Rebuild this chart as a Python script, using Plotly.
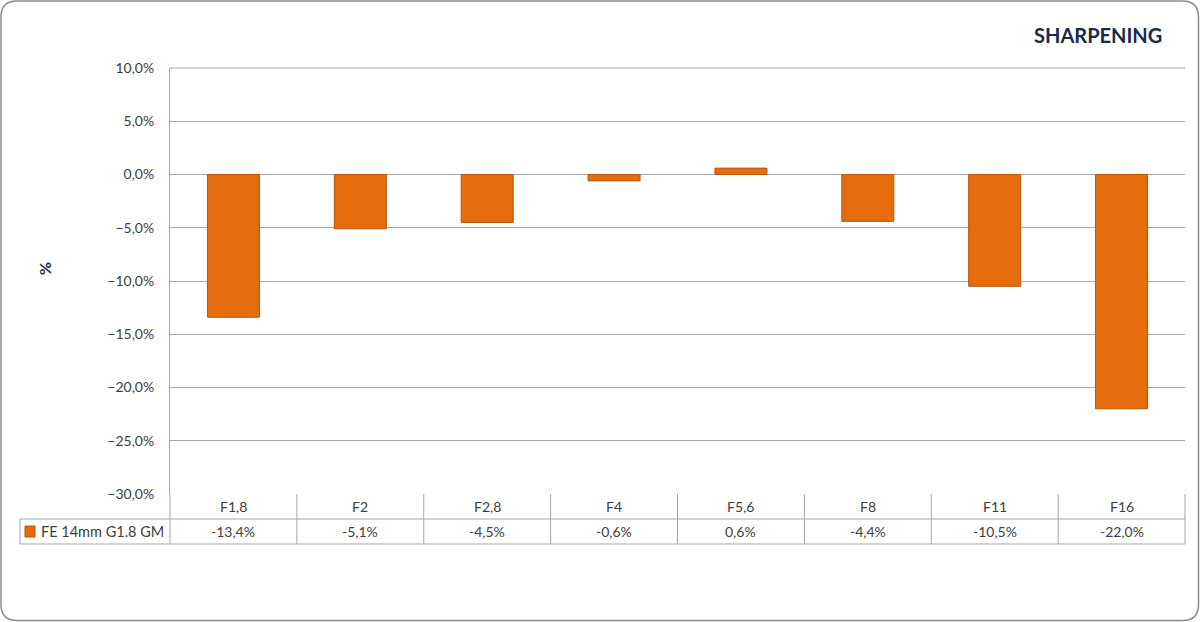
import plotly.graph_objects as go

categories = ["F1,8", "F2", "F2,8", "F4", "F5,6", "F8", "F11", "F16"]
values = [-13.4, -5.1, -4.5, -0.6, 0.6, -4.4, -10.5, -22.0]
series_name = "FE 14mm G1.8 GM"
title_text = "SHARPENING"
y_title = "%"

W, H = 1200, 622
L, R, T, B = 170, 15, 68, 128
PW, PH = W - L - R, H - T - B

def px(x):  # pixel x -> paper
    return (x - L) / PW

def py(y):  # pixel y -> paper
    return (H - B - y) / PH

orange = "#E46C0A"
orange_line = "#B5560A"
grid = "#A6A6A6"
txt = "#404040"
navy = "#1B2A47"
FONT = "Lato"

fig = go.Figure()
fig.add_trace(go.Bar(
    x=categories, y=values, width=0.41, name=series_name,
    marker=dict(color=orange, line=dict(color=orange_line, width=1)),
    showlegend=False,
))

shapes = []
ann = []
line_style = dict(color=grid, width=1)

# top gridline (range edge)
shapes.append(dict(type="line", xref="paper", yref="paper", x0=0, x1=1, y0=1, y1=1, line=line_style))

# table horizontal lines
row1 = py(519)
row2 = py(544)
shapes.append(dict(type="line", xref="paper", yref="paper", x0=px(20), x1=1, y0=row1, y1=row1, line=line_style))
shapes.append(dict(type="line", xref="paper", yref="paper", x0=px(20), x1=1, y0=row2, y1=row2, line=line_style))
shapes.append(dict(type="line", xref="paper", yref="paper", x0=px(20), x1=px(20), y0=row1, y1=row2, line=line_style))
# table vertical lines at category boundaries
n = len(categories)
for i in range(n + 1):
    xb = i / n
    shapes.append(dict(type="line", xref="paper", yref="paper", x0=xb, x1=xb, y0=0, y1=row2, line=line_style))

for i, (c, v) in enumerate(zip(categories, values)):
    xc = (i + 0.5) / n
    ann.append(dict(x=xc, y=py(506.5), xref="paper", yref="paper", text=c, showarrow=False,
                    font=dict(family=FONT, size=14, color=txt), xanchor="center", yanchor="middle"))
    ann.append(dict(x=xc, y=py(531.5), xref="paper", yref="paper",
                    text=f"{v:.1f}".replace(".", ",") + "%", showarrow=False,
                    font=dict(family=FONT, size=14, color=txt), xanchor="center", yanchor="middle"))

# legend swatch + series name
shapes.append(dict(type="rect", xref="paper", yref="paper", x0=px(25), x1=px(35), y0=py(537), y1=py(526),
                   fillcolor=orange, line=dict(color=orange_line, width=1)))
ann.append(dict(x=px(39), y=py(531.5), xref="paper", yref="paper", text=series_name, showarrow=False,
                font=dict(family=FONT, size=14.5, color=txt), xanchor="left", yanchor="middle"))

# title
ann.append(dict(x=px(1164), y=py(35), xref="paper", yref="paper", text=f"<b>{title_text}</b>", showarrow=False,
                font=dict(family=FONT, size=20, color=navy), xanchor="right", yanchor="middle"))
# y title
ann.append(dict(x=px(47), y=py(268), xref="paper", yref="paper", text=f"<b>{y_title}</b>", showarrow=False,
                textangle=90, font=dict(family=FONT, size=16, color=navy), xanchor="center", yanchor="middle"))

# rounded outer border
r = 16
x0, y0, x1, y1 = 1, 1, W - 1.5, H - 1.5
def P(x, y):
    return f"{px(x)},{py(y)}"
path = (f"M {P(x0 + r, y0)} L {P(x1 - r, y0)} Q {P(x1, y0)} {P(x1, y0 + r)} "
        f"L {P(x1, y1 - r)} Q {P(x1, y1)} {P(x1 - r, y1)} "
        f"L {P(x0 + r, y1)} Q {P(x0, y1)} {P(x0, y1 - r)} "
        f"L {P(x0, y0 + r)} Q {P(x0, y0)} {P(x0 + r, y0)} Z")
shapes.append(dict(type="path", xref="paper", yref="paper", path=path, line=dict(color="#8C8C8C", width=1.5)))

fig.update_layout(
    width=W, height=H,
    margin=dict(l=L, r=R, t=T, b=B),
    paper_bgcolor="white", plot_bgcolor="white",
    separators=",.",
    shapes=shapes, annotations=ann,
    font=dict(family=FONT, size=14, color=txt),
)
fig.update_xaxes(range=[-0.5, n - 0.5], showticklabels=False, showgrid=False, zeroline=False, showline=False)
fig.update_yaxes(range=[-30, 10], dtick=5, tickformat=".1f", ticksuffix="%",
                 showgrid=True, gridcolor=grid, gridwidth=1, zeroline=False,
                 showline=True, linecolor=grid, linewidth=1,
                 ticks="outside", ticklen=0, ticklabelstandoff=12,
                 tickfont=dict(family=FONT, size=14, color=txt))

fig.write_html("out.html", config={"displayModeBar": False},
               post_script="document.body.style.margin='0';document.body.style.overflow='hidden';")
